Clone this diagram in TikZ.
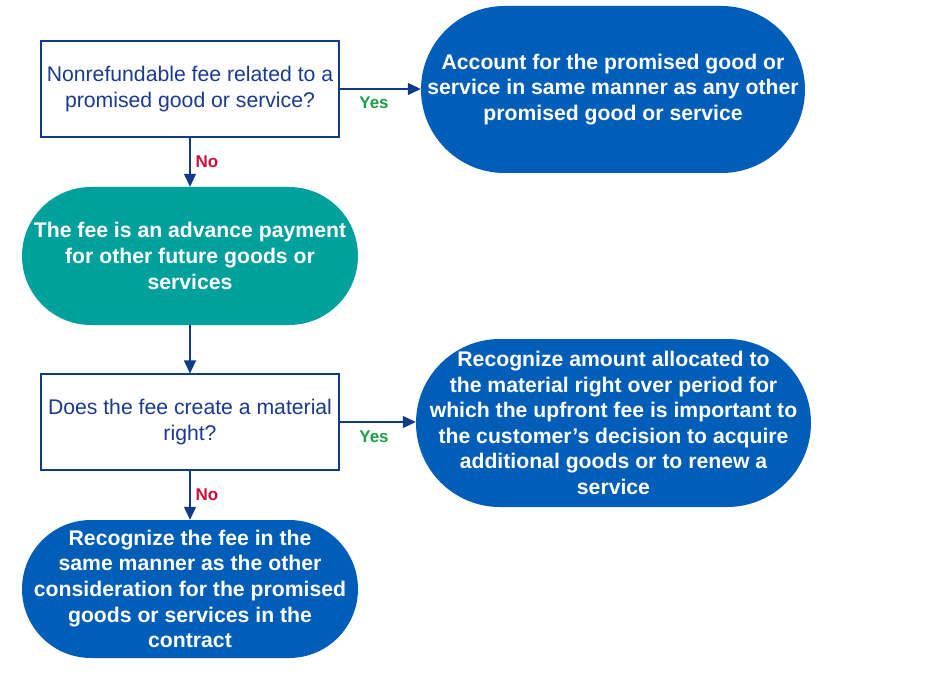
\documentclass[tikz,border=0pt]{standalone}
\usepackage{fontspec}
\setmainfont{Liberation Sans}
\usetikzlibrary{arrows.meta}
\definecolor{navy}{HTML}{0E3A8C}
\definecolor{qtext}{HTML}{1A3A8F}
\definecolor{kblue}{HTML}{005EB8}
\definecolor{kteal}{HTML}{00A19C}
\definecolor{yesgreen}{HTML}{1E9E48}
\definecolor{nored}{HTML}{C8103A}
\tikzset{
  qbox/.style={draw=navy, line width=1.2pt, fill=white, minimum width=298pt, minimum height=96pt,
    inner sep=0pt, align=center, text=qtext, font=\fontsize{21.2}{25.6}\selectfont},
  term/.style={fill=kblue, text=white, inner sep=0pt, align=center,
    font=\bfseries\fontsize{21.2}{25.6}\selectfont},
  arr/.style={draw=navy, line width=1.2pt, -{Triangle[length=13pt,width=12pt]}},
  yeslab/.style={text=yesgreen, font=\bfseries\fontsize{17}{20}\selectfont, inner sep=0pt},
  nolab/.style={text=nored, font=\bfseries\fontsize{17}{20}\selectfont, inner sep=0pt}
}
\begin{document}
\begin{tikzpicture}[x=1pt,y=-1pt]
\useasboundingbox (0,0) rectangle (951,682);
\node[qbox] (q1) at (190,89) {Nonrefundable fee related to a\\promised good or service?};
\node[term, minimum width=384pt, minimum height=167pt, rounded corners=83.5pt] (t1) at (613,89.5)
  {Account for the promised good or\\service in same manner as any other\\promised good or service};
\node[term, fill=kteal, minimum width=336pt, minimum height=138pt, rounded corners=69pt] (t2) at (190,256)
  {The fee is an advance payment\\for other future goods or\\services};
\node[qbox] (q2) at (190,422) {Does the fee create a material\\right?};
\node[term, minimum width=395pt, minimum height=168pt, rounded corners=84pt] (t3) at (613.5,423)
  {Recognize amount allocated to\\the material right over period for\\which the upfront fee is important to\\the customer’s decision to acquire\\additional goods or to renew a\\service};
\node[term, minimum width=336pt, minimum height=138pt, rounded corners=69pt] (t4) at (190,589)
  {Recognize the fee in the\\same manner as the other\\consideration for the promised\\goods or services in the\\contract};
\draw[arr] (q1.east) -- (q1.east -| t1.west);
\draw[arr] (q1.south) -- (t2.north);
\draw[arr] (t2.south) -- (q2.north);
\draw[arr] (q2.east) -- (q2.east -| t3.west);
\draw[arr] (q2.south) -- (t4.north);
\node[yeslab] (y1) at (374,103) {Yes};
\node[yeslab] (y2) at (374,437) {Yes};
\node[nolab] (n1) at (207,162) {No};
\node[nolab] (n2) at (207,495) {No};
\end{tikzpicture}
\end{document}
